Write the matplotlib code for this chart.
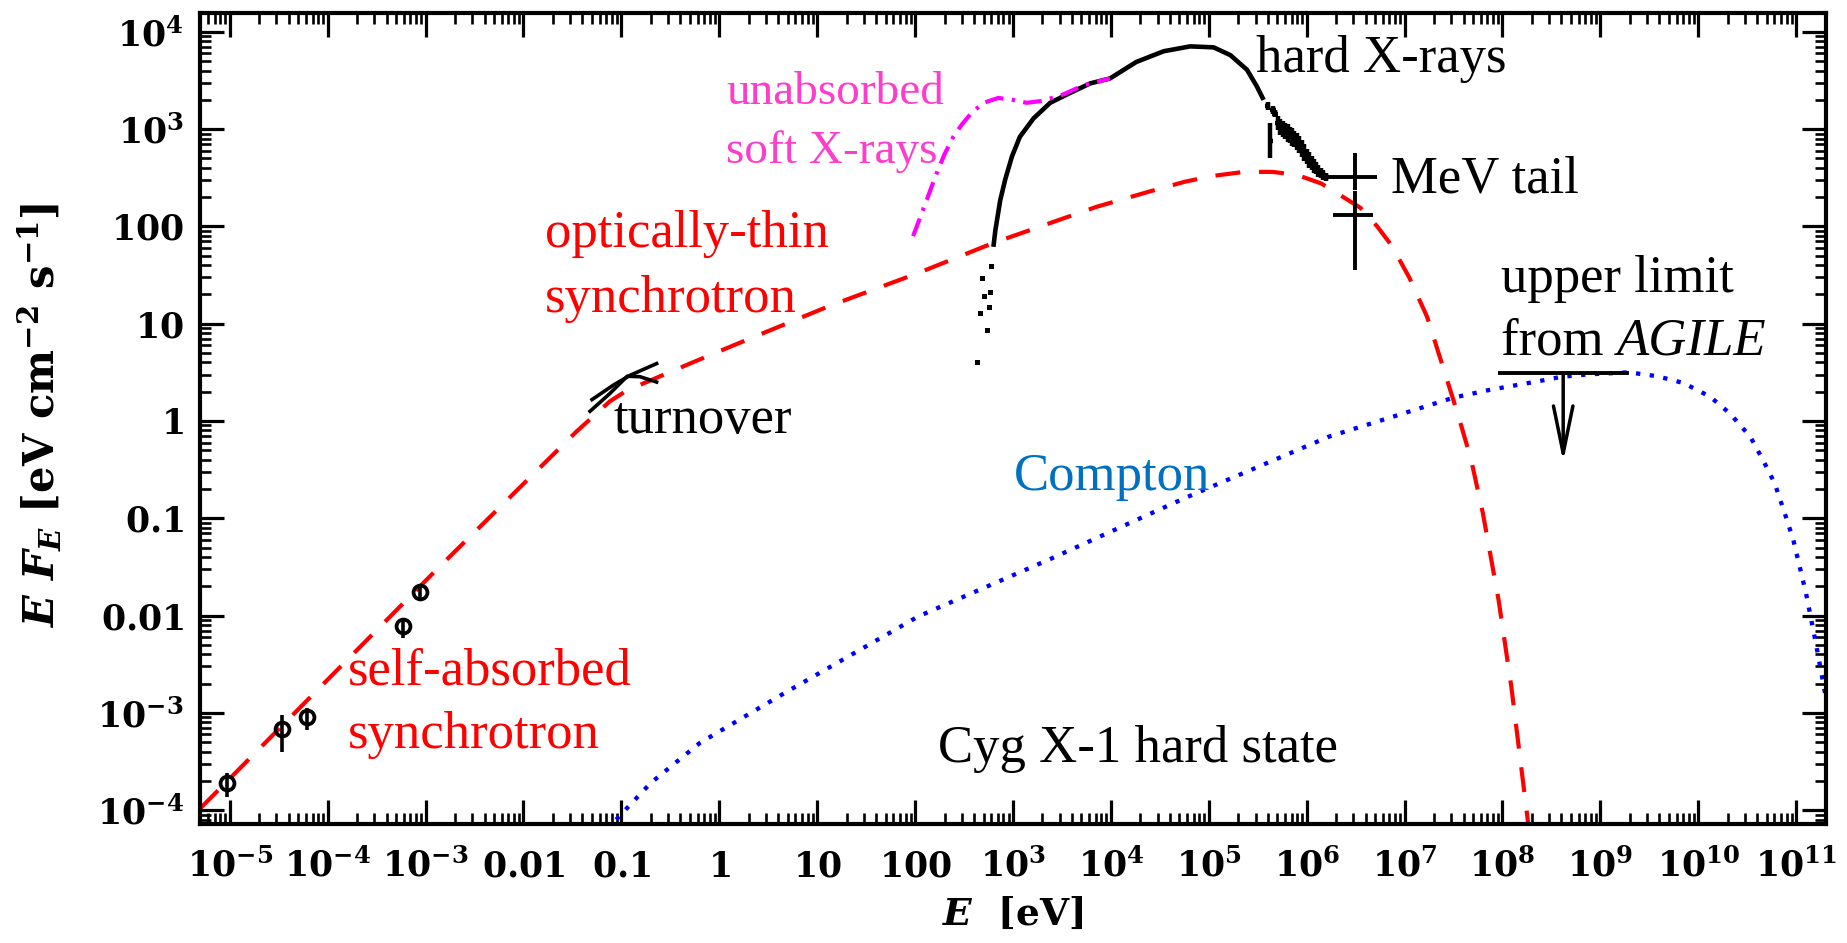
import numpy as np
import matplotlib
matplotlib.use("Agg")
import matplotlib.pyplot as plt
from matplotlib.ticker import LogLocator, NullFormatter

# All values are log10: E in eV, E F_E in eV cm^-2 s^-1

# synchrotron model (self-absorbed -> optically thin -> cutoff)
sync_logE = [-5.30, -2.89, -1.46, -1.12, -0.95, -0.72, -0.30, 0.20, 1.12, 2.03, 2.80,
             3.85, 4.40, 4.76, 5.05, 5.36, 5.65, 5.90, 6.15, 6.36, 6.55, 6.72, 6.87,
             7.05, 7.23, 7.40, 7.55, 7.68, 7.80, 7.96, 8.09, 8.27]
sync_logF = [-3.98, -1.53, -0.11, 0.20, 0.31, 0.41, 0.59, 0.80, 1.18, 1.52, 1.83,
             2.20, 2.36, 2.46, 2.52, 2.56, 2.56, 2.53, 2.44, 2.31, 2.19, 2.00, 1.80,
             1.47, 1.07, 0.53, 0.05, -0.40, -0.95, -1.84, -2.73, -4.20]

# Compton component
comp_logE = [-1.15, -0.70, -0.20, 0.66, 2.03, 3.40, 4.76, 5.67, 6.23, 6.90, 7.50, 7.87,
             8.32, 8.61, 8.89, 9.29, 9.58, 9.85, 10.12, 10.32, 10.53, 10.66, 10.78,
             10.89, 10.97, 11.10, 11.20, 11.35]
comp_logF = [-4.20, -3.72, -3.31, -2.80, -2.01, -1.41, -0.79, -0.40, -0.16, 0.05, 0.24, 0.32,
             0.40, 0.455, 0.48, 0.50, 0.46, 0.39, 0.25, 0.08, -0.16, -0.40, -0.64,
             -0.97, -1.22, -1.77, -2.28, -3.10]

# unabsorbed soft X-rays
soft_logE = [1.98, 2.10, 2.21, 2.30, 2.39, 2.48, 2.58, 2.70, 2.85, 3.00, 3.14, 3.30, 3.50, 3.72, 3.99]
soft_logF = [1.90, 2.22, 2.52, 2.74, 2.92, 3.05, 3.17, 3.27, 3.32, 3.30, 3.27, 3.29, 3.35, 3.45, 3.52]

# hard X-ray spectrum
hx_logE = [2.80, 2.82, 2.87, 2.92, 2.99, 3.07, 3.21, 3.38, 3.58, 3.79, 3.99, 4.26, 4.54,
           4.81, 5.05, 5.22, 5.39, 5.49, 5.56]
hx_logF = [1.79, 1.96, 2.27, 2.48, 2.72, 2.92, 3.11, 3.27, 3.37, 3.47, 3.52, 3.69, 3.80,
           3.85, 3.84, 3.76, 3.61, 3.44, 3.30]
hx_low_logE = [2.63, 2.73, 2.66, 2.75, 2.70, 2.77, 2.68, 2.78]
hx_low_logF = [0.61, 0.94, 1.11, 1.17, 1.28, 1.33, 1.47, 1.59]

# high-energy end of the X-ray spectrum, with errors in dex
tail_logE = [5.60, 5.63, 5.66, 5.68, 5.71, 5.73, 5.76, 5.78, 5.81, 5.83, 5.85, 5.87, 5.90,
             5.92, 5.95, 5.97, 6.00, 6.02, 6.05, 6.07, 6.10, 6.12, 6.15, 6.17, 6.20]
tail_logF = [3.24, 2.88, 3.20, 3.16, 3.06, 3.02, 3.00, 2.98, 2.96, 2.94, 2.92, 2.90, 2.87,
             2.84, 2.80, 2.76, 2.72, 2.68, 2.65, 2.62, 2.60, 2.57, 2.55, 2.53, 2.51]
tail_err = [0.04, 0.18, 0.04, 0.04, 0.07, 0.08, 0.08, 0.08, 0.09, 0.08, 0.09, 0.08, 0.09,
            0.09, 0.09, 0.09, 0.08, 0.08, 0.07, 0.07, 0.06, 0.06, 0.05, 0.05, 0.04]
tail_xerr = 0.03

# MeV points
mev_logE = [6.49, 6.49]
mev_logE_lo = [6.22, 6.27]
mev_logE_hi = [6.72, 6.68]
mev_logF = [2.51, 2.12]
mev_logF_lo = [2.37, 1.55]
mev_logF_hi = [2.75, 2.36]

# AGILE upper limit
agile_logE_lo, agile_logE_hi = 7.97, 9.27
agile_logE_arrow = 8.62
agile_logF = 0.49
agile_logF_tip = -0.42

# radio points
radio_logE = [-5.03, -4.47, -4.21, -3.23, -3.06]
radio_logF = [-3.72, -3.17, -3.04, -2.11, -1.76]
radio_logF_lo = [-3.86, -3.40, -3.18, -2.23, -1.82]
radio_logF_hi = [-3.62, -3.02, -2.95, -2.03, -1.70]

# IR/optical turnover bowtie
bow1_logE = [-1.30, -1.08, -0.91, -0.64]
bow1_logF = [0.22, 0.37, 0.47, 0.59]
bow2_logE = [-1.32, -1.12, -0.94, -0.81, -0.64]
bow2_logF = [0.10, 0.28, 0.46, 0.455, 0.40]

xtick_exps = list(range(-5, 12))
xtick_labels = [r'$10^{-5}$', r'$10^{-4}$', r'$10^{-3}$', r'$0.01$', r'$0.1$', r'$1$', r'$10$',
                r'$100$', r'$10^{3}$', r'$10^{4}$', r'$10^{5}$', r'$10^{6}$', r'$10^{7}$',
                r'$10^{8}$', r'$10^{9}$', r'$10^{10}$', r'$10^{11}$']
ytick_exps = list(range(-4, 5))
ytick_labels = [r'$10^{-4}$', r'$10^{-3}$', r'$0.01$', r'$0.1$', r'$1$', r'$10$', r'$100$',
                r'$10^{3}$', r'$10^{4}$']


def dex(v):
    return 10.0 ** np.asarray(v, dtype=float)


plt.rcParams['mathtext.fontset'] = 'custom'
plt.rcParams['mathtext.rm'] = 'DejaVu Serif:bold'
plt.rcParams['mathtext.it'] = 'DejaVu Serif:italic:bold'
plt.rcParams['mathtext.bf'] = 'DejaVu Serif:bold'

fig = plt.figure(figsize=(18.47, 9.43), dpi=100)
ax = fig.add_axes([0.1085, 0.1264, 0.8799, 0.8595])

# model curves
ax.plot(dex(sync_logE), dex(sync_logF), color='#ff0000', lw=3.0, dashes=(6, 4.5))
ax.plot(dex(comp_logE), dex(comp_logF), color='#0000ff', lw=3.1,
        linestyle=(0, (1, 2.2)))

# X-ray data
ax.plot(dex(hx_logE), dex(hx_logF), color='k', lw=3.3, solid_capstyle='butt')
ax.plot(dex(hx_low_logE), dex(hx_low_logF), 's', color='k', ms=3.6, mew=0)
tF = dex(tail_logF)
tE = dex(tail_logE)
terr = np.asarray(tail_err)
ax.errorbar(tE, tF,
            xerr=[tE * (1 - 10 ** -tail_xerr), tE * (10 ** tail_xerr - 1)],
            yerr=[tF * (1 - 10 ** -terr), tF * (10 ** terr - 1)],
            fmt='none', ecolor='k', elinewidth=3.2, capsize=0)
ax.plot(dex(soft_logE), dex(soft_logF), color='#ff00ff', lw=3.0,
        linestyle=(0, (4.5, 2, 0.8, 2)))

# MeV tail
mE, mF = dex(mev_logE), dex(mev_logF)
ax.errorbar(mE, mF,
            xerr=[mE - dex(mev_logE_lo), dex(mev_logE_hi) - mE],
            yerr=[mF - dex(mev_logF_lo), dex(mev_logF_hi) - mF],
            fmt='none', ecolor='k', elinewidth=2.8, capsize=0)

# AGILE upper limit
ax.plot(dex([agile_logE_lo, agile_logE_hi]), dex([agile_logF, agile_logF]), color='k', lw=2.8)
ax.annotate('', xy=(dex(agile_logE_arrow), dex(agile_logF_tip)),
            xytext=(dex(agile_logE_arrow), dex(agile_logF)),
            arrowprops=dict(arrowstyle='->,head_length=3.4,head_width=0.7',
                            lw=2.5, color='k', shrinkA=0, shrinkB=0))

# radio
rE, rF = dex(radio_logE), dex(radio_logF)
ax.errorbar(rE, rF, yerr=[rF - dex(radio_logF_lo), dex(radio_logF_hi) - rF],
            fmt='o', mfc='none', mec='k', ecolor='k', ms=10, mew=2.7,
            elinewidth=2.6, capsize=0)

# turnover
ax.plot(dex(bow1_logE), dex(bow1_logF), color='k', lw=2.6)
ax.plot(dex(bow2_logE), dex(bow2_logF), color='k', lw=2.6)

# labels
serif = dict(family='Liberation Serif', fontsize=38, ha='left', va='baseline')
ax.text(3.0e5, 3.9e3, 'hard X-rays', color='k', **serif)
ax.text(1.17, 1.8e3, 'unabsorbed', color='#ff3dcc', **{**serif, 'fontsize': 34})
ax.text(1.17, 446, 'soft X-rays', color='#ff3dcc', **{**serif, 'fontsize': 34})
ax.text(0.0165, 61.8, 'optically-thin', color='#ff0000', **serif)
ax.text(0.0165, 13.3, 'synchrotron', color='#ff0000', **serif)
ax.text(0.0828, 0.748, 'turnover', color='k', **serif)
ax.text(1.61e-4, 1.94e-3, 'self-absorbed', color='#ff0000', **serif)
ax.text(1.61e-4, 4.33e-4, 'synchrotron', color='#ff0000', **serif)
ax.text(1.02e3, 0.195, 'Compton', color='#0070c0', **serif)
ax.text(172, 3.15e-4, 'Cyg X-1 hard state', color='k', **serif)
ax.text(7.3e6, 222, 'MeV tail', color='k', **serif)
ax.text(9.55e7, 21.3, 'upper limit', color='k', **serif)
t_from = ax.text(9.55e7, 4.77, 'from ', color='k', **serif)
ax.annotate('AGILE', xy=(1, 0), xycoords=t_from, family='Liberation Serif',
            fontsize=38, fontstyle='italic', ha='left', va='bottom', color='k')

# axes
ax.set_xscale('log')
ax.set_yscale('log')
ax.set_xlim(10 ** -5.3, 10 ** 11.3)
ax.set_ylim(10 ** -4.14, 10 ** 4.19)
ax.set_xticks(dex(xtick_exps), xtick_labels)
ax.set_yticks(dex(ytick_exps), ytick_labels)
for axis in (ax.xaxis, ax.yaxis):
    axis.set_minor_locator(LogLocator(base=10, subs=np.arange(2, 10), numticks=200))
    axis.set_minor_formatter(NullFormatter())

ax.tick_params(which='both', direction='in', top=True, right=True, labelsize=25)
ax.tick_params(which='major', length=17, width=2.3)
ax.tick_params(which='minor', length=8, width=1.9)
ax.tick_params(axis='x', pad=38)
ax.tick_params(axis='y', pad=12)
for tick in ax.xaxis.get_major_ticks():
    tick.label1.set_verticalalignment('baseline')
for s in ax.spines.values():
    s.set_linewidth(3)

ax.set_xlabel(r'$E\ \ [{\rm eV}]$', fontsize=27, va='top')
ax.xaxis.set_label_coords(0.5, -0.09)
ax.set_ylabel(r'$E\ F_E\ [{\rm eV\ cm^{-2}\ s^{-1}}]$', fontsize=30, ha='center', va='center')
ax.yaxis.set_label_coords(-0.0985, 0.505)

fig.savefig('out.png', dpi=100)
